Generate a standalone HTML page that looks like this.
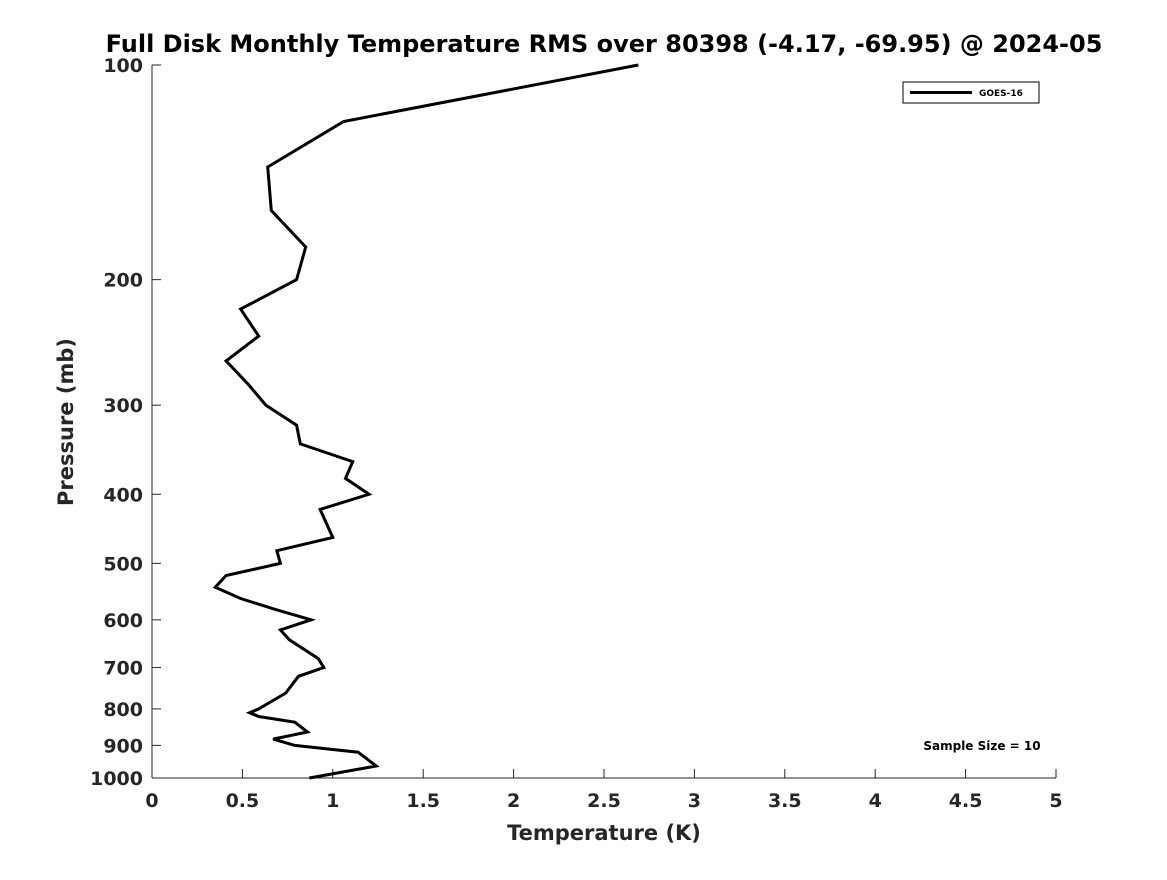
<!DOCTYPE html>
<html><head><meta charset="utf-8"><style>
body{margin:0;background:#fff;}
svg text{font-family:"DejaVu Sans","Liberation Sans",sans-serif;font-weight:bold;}
</style></head><body>
<svg id="chart" width="1167" height="875" viewBox="0 0 1167 875" xmlns="http://www.w3.org/2000/svg">
<rect width="1167" height="875" fill="#fff"/>
<text x="604" y="52" font-size="24" text-anchor="middle" fill="#000">Full Disk Monthly Temperature RMS over 80398 (-4.17, -69.95) @ 2024-05</text>
<g id="axes"></g>
<g id="series"></g>
<text x="604" y="840" font-size="21" text-anchor="middle" fill="#262626">Temperature (K)</text>
<text transform="translate(73,422) rotate(-90)" font-size="21" text-anchor="middle" fill="#262626">Pressure (mb)</text>
<g>
<rect x="903" y="82" width="136" height="21" fill="#fff" stroke="#000" stroke-width="1"/>
<line x1="910" y1="92.5" x2="972" y2="92.5" stroke="#000" stroke-width="3"/>
<text x="979" y="96" font-size="9" fill="#000">GOES-16</text>
</g>
<text x="982" y="750" font-size="12" text-anchor="middle" fill="#000">Sample Size = 10</text>
</svg>
<script>
const temps=[2.69,1.06,0.64,0.66,0.85,0.80,0.49,0.59,0.41,0.53,0.63,0.80,0.82,1.11,1.07,1.20,0.93,1.00,0.69,0.71,0.41,0.35,0.49,0.68,0.88,0.71,0.76,0.92,0.95,0.81,0.74,0.59,0.54,0.59,0.79,0.86,0.67,0.79,1.14,1.24,0.87];
const pressures=[100,120,139,160,180,200,220,240,260,280,300,320,340,360,380,400,420,460,480,500,520,540,560,580,600,620,640,680,700,720,760,800,810,820,835,862,882,900,920,962,1000];
const xTicks=[0,0.5,1,1.5,2,2.5,3,3.5,4,4.5,5];
const yTicks=[100,200,300,400,500,600,700,800,900,1000];
const L=152,R=1056,T=65,B=778;
function xs(v){return L+(v-0)/(5-0)*(R-L);}
function ys(p){return T+Math.log10(p/100)/Math.log10(10)*(B-T);}
const NS='http://www.w3.org/2000/svg';
const ax=document.getElementById('axes');
function mk(tag,attrs,parent){const e=document.createElementNS(NS,tag);for(const k in attrs)e.setAttribute(k,attrs[k]);parent.appendChild(e);return e;}
const yl=mk('line',{x1:L,y1:T,x2:L,y2:B,stroke:'#262626','stroke-width':1},ax);


const xl=mk('line',{x1:L,y1:B,x2:R,y2:B,stroke:'#262626','stroke-width':1},ax);


xTicks.forEach(v=>{
 const x=xs(v);
 const t=mk('line',{x1:x,y1:B,x2:x,y2:B-9,stroke:'#262626','stroke-width':1},ax);
 
 
 const tx=mk('text',{x:x,y:807,'font-size':19,'text-anchor':'middle',fill:'#262626'},ax);
 
 
 tx.textContent=String(v);
});
yTicks.forEach(p=>{
 const y=ys(p);
 const t=mk('line',{x1:L,y1:y,x2:L+9,y2:y,stroke:'#262626','stroke-width':1},ax);
 
 
 const tx=mk('text',{x:143,y:y+7,'font-size':19,'text-anchor':'end',fill:'#262626'},ax);
 
 
 tx.textContent=String(p);
});
const pts=temps.map((t,i)=>xs(t).toFixed(1)+','+ys(pressures[i]).toFixed(1)).join(' ');
const line=mk('polyline',{points:pts,fill:'none',stroke:'#000','stroke-width':3,'stroke-linejoin':'miter'},document.getElementById('series'));


</script>
</body></html>
